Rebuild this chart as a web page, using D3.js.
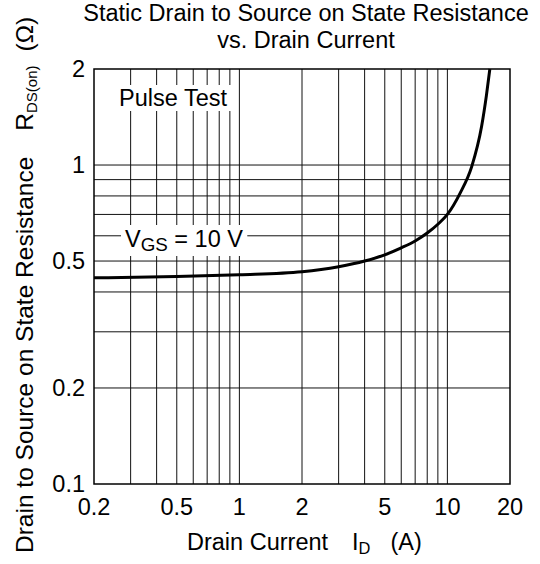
<!DOCTYPE html>
<html lang="en">
<head>
<meta charset="UTF-8">
<title>Static Drain to Source on State Resistance vs. Drain Current</title>
<script src="https://d3js.org/d3.v7.min.js"></script>
<style>
  body { margin: 0; background: #fff; }
  text { font-family: "Liberation Sans", Arial, sans-serif; fill: #000; }
</style>
</head>
<body>
<script>
// curve: drain current (A) vs R_DS(on) (ohm)
const currentA = [0.2, 0.5, 1, 2, 3, 4, 5, 6, 7, 8, 9, 10, 11.5, 13.1, 14.6, 15.4, 16.0];
const resistance = [0.443, 0.447, 0.453, 0.463, 0.48, 0.50, 0.523, 0.55, 0.578, 0.612, 0.652, 0.70, 0.815, 0.99, 1.32, 1.65, 2.0];

const xTicks = [0.2, 0.5, 1, 2, 5, 10, 20];
const yTicks = [0.1, 0.2, 0.5, 1, 2];
const xGrid = [0.3, 0.4, 0.5, 0.6, 0.7, 0.8, 0.9, 1, 2, 3, 4, 5, 6, 7, 8, 9, 10];
const yGrid = [0.2, 0.3, 0.4, 0.5, 0.6, 0.7, 0.8, 0.9, 1];

const width = 540, height = 564;
const margin = { top: 69, right: 30, bottom: 80, left: 94 };
const fs = 23.5;

const svg = d3.select("body").append("svg")
    .attr("width", width)
    .attr("height", height);

const x = d3.scaleLog().domain([0.2, 20]).range([margin.left, width - margin.right]);
const y = d3.scaleLog().domain([0.1, 2]).range([height - margin.bottom, margin.top]);

// grid
const grid = svg.append("g").attr("stroke", "#111").attr("stroke-width", 1);
grid.selectAll("line.v").data(xGrid).join("line")
    .attr("class", "v")
    .attr("x1", d => x(d)).attr("x2", d => x(d))
    .attr("y1", y(0.1)).attr("y2", y(2));
grid.selectAll("line.h").data(yGrid).join("line")
    .attr("class", "h")
    .attr("x1", x(0.2)).attr("x2", x(20))
    .attr("y1", d => y(d)).attr("y2", d => y(d));

// labels inside the plot sit on white boxes that hide the grid
function boxedLabel(tx, ty, build, pad) {
  const g = svg.append("g");
  const rect = g.append("rect").attr("fill", "#fff");
  const t = g.append("text").attr("x", tx).attr("y", ty).attr("font-size", fs);
  build(t);
  const b = t.node().getBBox();
  rect.attr("x", b.x - pad[0]).attr("y", b.y - pad[1])
      .attr("width", b.width + 2 * pad[0]).attr("height", b.height + 2 * pad[1]);
}

boxedLabel(119, 106, t => t.text("Pulse Test"), [4, 0]);
boxedLabel(125, 247, t => {
  t.append("tspan").text("V");
  t.append("tspan").attr("font-size", fs * 0.8).attr("dy", 4).text("GS");
  t.append("tspan").attr("dy", -4).text(" = 10 V");
}, [4, 1]);

// curve
const line = d3.line()
    .x((d, i) => x(currentA[i]))
    .y(d => y(d))
    .curve(d3.curveMonotoneX);
svg.append("path")
    .datum(resistance)
    .attr("fill", "none")
    .attr("stroke", "#000")
    .attr("stroke-width", 3)
    .attr("d", line);

// frame
svg.append("rect")
    .attr("x", x(0.2)).attr("y", y(2))
    .attr("width", x(20) - x(0.2)).attr("height", y(0.1) - y(2))
    .attr("fill", "none").attr("stroke", "#000").attr("stroke-width", 1.5);

// tick labels
svg.append("g").selectAll("text").data(xTicks).join("text")
    .attr("x", d => x(d)).attr("y", y(0.1) + 31)
    .attr("text-anchor", "middle").attr("font-size", fs)
    .text(d => d);
svg.append("g").selectAll("text").data(yTicks).join("text")
    .attr("x", x(0.2) - 9).attr("y", d => y(d))
    .attr("dy", "0.35em")
    .attr("text-anchor", "end").attr("font-size", fs)
    .text(d => d);

// title, two separate lines
svg.append("text").attr("text-anchor", "middle").attr("font-size", fs)
    .attr("x", 306).attr("y", 21).text("Static Drain to Source on State Resistance");
svg.append("text").attr("text-anchor", "middle").attr("font-size", fs)
    .attr("x", 306).attr("y", 48).text("vs. Drain Current");

// x axis label
const xl = svg.append("text").attr("x", 187).attr("y", 550).attr("font-size", fs);
xl.append("tspan").text("Drain Current");
xl.append("tspan").attr("dx", 24).text("I");
xl.append("tspan").attr("font-size", fs * 0.7).attr("dy", 4).text("D");
xl.append("tspan").attr("dx", 20).attr("dy", -4).text("(A)");

// y axis label
const yl = svg.append("text").attr("transform", "translate(33,553) rotate(-90)").attr("font-size", 24.5);
yl.append("tspan").text("Drain to Source on State Resistance");
yl.append("tspan").attr("dx", 26).text("R");
yl.append("tspan").attr("font-size", 15).attr("dy", 4).text("DS(on)");
yl.append("tspan").attr("dx", 14).attr("dy", -4).text("(Ω)");
</script>
</body>
</html>
